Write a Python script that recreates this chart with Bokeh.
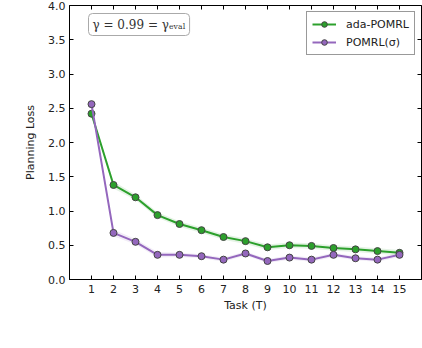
from bokeh.plotting import figure
from bokeh.models import (LinearAxis, Legend, LegendItem, Label, FixedTicker,
                          ColumnDataSource, PrintfTickFormatter)
from bokeh.embed import file_html
from bokeh.resources import INLINE

tasks = list(range(1, 16))
ada_pomrl = [2.42, 1.38, 1.20, 0.94, 0.81, 0.72, 0.62, 0.56, 0.47, 0.50, 0.49, 0.46, 0.44, 0.415, 0.39]
ada_std = [0.03, 0.05, 0.04, 0.04, 0.04, 0.04, 0.04, 0.04, 0.04, 0.04, 0.04, 0.04, 0.04, 0.04, 0.04]
pomrl_sigma = [2.56, 0.68, 0.55, 0.36, 0.36, 0.34, 0.29, 0.38, 0.27, 0.32, 0.29, 0.36, 0.31, 0.29, 0.36]
pomrl_std = [0.03, 0.05, 0.04, 0.04, 0.03, 0.03, 0.03, 0.03, 0.03, 0.03, 0.03, 0.03, 0.03, 0.03, 0.03]
y_ticks = [0.0, 0.5, 1.0, 1.5, 2.0, 2.5, 3.0, 3.5, 4.0]

GREEN = "#2ca02c"
PURPLE = "#9467bd"
FONT = "DejaVu Sans"

src = ColumnDataSource(dict(
    x=tasks,
    a=ada_pomrl,
    a_lo=[v - s for v, s in zip(ada_pomrl, ada_std)],
    a_hi=[v + s for v, s in zip(ada_pomrl, ada_std)],
    p=pomrl_sigma,
    p_lo=[v - s for v, s in zip(pomrl_sigma, pomrl_std)],
    p_hi=[v + s for v, s in zip(pomrl_sigma, pomrl_std)],
))

p = figure(width=422, height=348, output_backend="svg", toolbar_location=None,
           x_range=(0, 16), y_range=(0, 4),
           min_border_left=69, min_border_right=1, min_border_top=5, min_border_bottom=69)
p.grid.visible = False
p.outline_line_color = "black"
p.outline_line_width = 1
p.background_fill_color = "white"
p.border_fill_color = "white"

p.varea(x="x", y1="a_lo", y2="a_hi", source=src, fill_color=GREEN, fill_alpha=0.12)
p.varea(x="x", y1="p_lo", y2="p_hi", source=src, fill_color=PURPLE, fill_alpha=0.12)

la = p.line(x="x", y="a", source=src, line_color=GREEN, line_width=2)
sa = p.scatter(x="x", y="a", source=src, size=7, fill_color=GREEN,
               line_color="#444444", line_width=1)
lp = p.line(x="x", y="p", source=src, line_color=PURPLE, line_width=2)
sp = p.scatter(x="x", y="p", source=src, size=7, fill_color=PURPLE,
               line_color="#444444", line_width=1)

for ax in (p.xaxis[0], p.yaxis[0]):
    ax.major_tick_in = 4
    ax.major_tick_out = 0
    ax.minor_tick_in = 0
    ax.minor_tick_out = 0
    ax.axis_line_color = "black"
    ax.major_label_text_font = FONT
    ax.major_label_text_font_size = "11px"
    ax.major_label_text_color = "#222222"
    ax.axis_label_text_font = FONT
    ax.axis_label_text_font_size = "11px"
    ax.axis_label_text_font_style = "normal"
    ax.axis_label_text_color = "#222222"

p.xaxis[0].ticker = FixedTicker(ticks=tasks)
p.yaxis[0].ticker = FixedTicker(ticks=y_ticks)
p.yaxis[0].formatter = PrintfTickFormatter(format="%.1f")
p.xaxis[0].axis_label = "Task (T)"
p.yaxis[0].axis_label = "Planning Loss"
p.xaxis[0].major_label_standoff = 5
p.yaxis[0].major_label_standoff = 4
p.xaxis[0].axis_label_standoff = 3
p.yaxis[0].axis_label_standoff = 8

top = LinearAxis(ticker=FixedTicker(ticks=tasks), major_tick_in=4, major_tick_out=0,
                 minor_tick_in=0, minor_tick_out=0,
                 major_label_overrides={t: "" for t in tasks},
                 major_label_standoff=0, axis_line_color=None)
right = LinearAxis(ticker=FixedTicker(ticks=y_ticks), major_tick_in=4, major_tick_out=0,
                   minor_tick_in=0, minor_tick_out=0,
                   major_label_overrides={t: "" for t in y_ticks},
                   major_label_standoff=0, axis_line_color=None)
p.add_layout(top, "above")
p.add_layout(right, "right")

legend = Legend(items=[
    LegendItem(label="ada-POMRL", renderers=[la, sa]),
    LegendItem(label="POMRL(σ)", renderers=[lp, sp]),
], location="top_right")
legend.label_text_font = FONT
legend.label_text_font_size = "11px"
legend.label_text_color = "#222222"
legend.border_line_color = "#333333"
legend.border_line_width = 1
legend.background_fill_alpha = 1
legend.glyph_width = 24
legend.glyph_height = 14
legend.label_height = 14
legend.spacing = 4
legend.padding = 5
legend.margin = 6
legend.label_standoff = 10
p.add_layout(legend)

gamma = Label(x=19, y=244, x_units="screen", y_units="screen",
              text="γ = 0.99 = γₑᵥₐₗ", text_font="DejaVu Serif", text_font_size="12px",
              text_color="#333333", border_line_color="#aaaaaa", border_line_width=1,
              background_fill_color="white", padding=4, border_radius=4)
p.add_layout(gamma)

for txt, xpos, fnt, style in [("Figure 3:", -39, "DejaVu Serif", "normal"),
                              ("ada-POMRL", 131, "DejaVu Sans Mono", "bold"),
                              ("model", 264, "DejaVu Serif", "normal")]:
    p.add_layout(Label(x=xpos, y=-55, x_units="screen", y_units="screen",
                       text=txt, text_font=fnt, text_font_size="22px",
                       text_font_style=style, text_baseline="top",
                       text_color="#111111"))

open("out.html", "w").write(file_html(p, INLINE))
